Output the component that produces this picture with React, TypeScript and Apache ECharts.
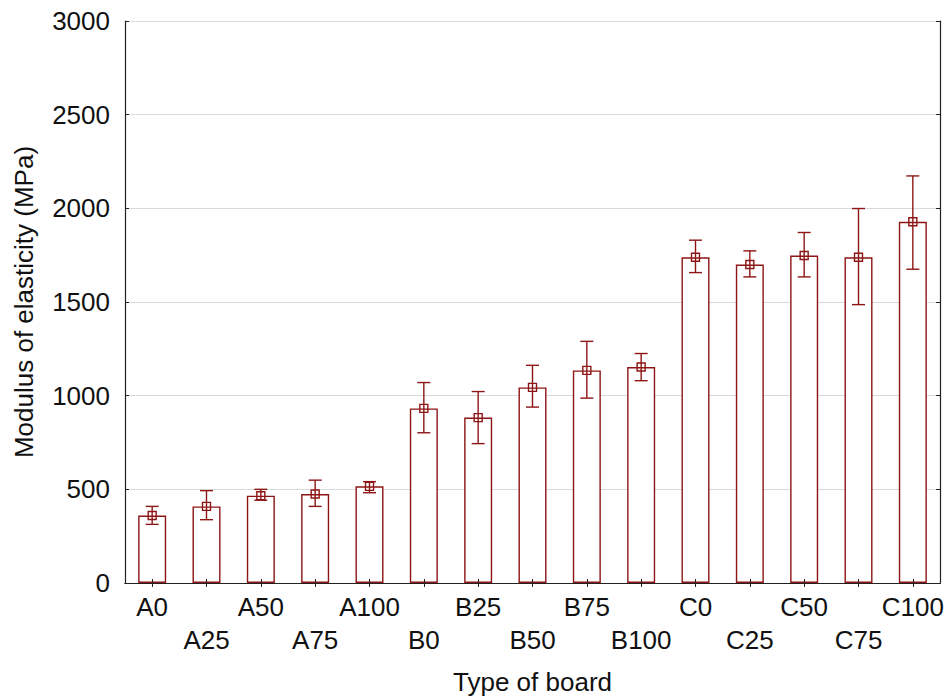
import React, { useEffect, useRef } from "react";
import * as echarts from "echarts";

const categories = ["A0", "A25", "A50", "A75", "A100", "B0", "B25", "B50", "B75", "B100", "C0", "C25", "C50", "C75", "C100"];
const means = [360, 409, 466, 475, 516, 932, 883, 1044, 1135, 1153, 1739, 1700, 1748, 1739, 1928];
const upper = [409, 493, 500, 549, 541, 1070, 1022, 1162, 1290, 1225, 1830, 1773, 1871, 1999, 2173];
const lower = [313, 338, 442, 409, 482, 802, 744, 939, 987, 1080, 1657, 1634, 1634, 1486, 1675];
const yTicks = { min: 0, max: 3000, interval: 500 };

const RED = "#8e1515";
const FONT = "'Liberation Sans', Arial, sans-serif";

export default function App() {
  const ref = useRef<HTMLDivElement>(null);
  useEffect(() => {
    if (!ref.current) return;
    const chart = echarts.init(ref.current, null, { renderer: "svg" });
    const errData = categories.map((_, i) => [i, lower[i], upper[i]]);
    chart.setOption({
      animation: false,
      backgroundColor: "#ffffff",
      textStyle: { fontFamily: FONT },
      grid: { left: 125, right: 8, top: 21, bottom: 117, containLabel: false },
      xAxis: [
        {
          type: "category",
          data: categories,
          position: "bottom",
          z: 10,
          name: "Type of board",
          nameLocation: "middle",
          nameGap: 86,
          nameTextStyle: { fontSize: 26, color: "#111", fontFamily: FONT },
          axisLine: { show: true, lineStyle: { color: "#222", width: 1.2 } },
          axisTick: { show: true, inside: true, alignWithLabel: true, length: 4, lineStyle: { color: "#222" } },
          axisLabel: {
            interval: 0,
            fontSize: 26,
            color: "#111",
            fontFamily: FONT,
            lineHeight: 33,
            margin: 7,
            formatter: (v: string, i: number) => (i % 2 === 1 ? "\n" + v : v),
          },
          splitLine: { show: false },
        },
        {
          type: "category",
          data: categories,
          position: "top",
          z: 10,
          axisLine: { show: true, lineStyle: { color: "#222", width: 1.2 } },
          axisTick: { show: true, inside: true, alignWithLabel: true, length: 4, lineStyle: { color: "#222" } },
          axisLabel: { show: false },
          splitLine: { show: false },
        },
      ],
      yAxis: [
        {
          type: "value",
          min: yTicks.min,
          max: yTicks.max,
          interval: yTicks.interval,
          position: "left",
          name: "Modulus of elasticity (MPa)",
          nameLocation: "middle",
          nameGap: 88,
          nameTextStyle: { fontSize: 26, color: "#111", fontFamily: FONT },
          axisLine: { show: true, lineStyle: { color: "#222", width: 1.2 } },
          axisTick: { show: true, inside: true, length: 4, lineStyle: { color: "#222" } },
          axisLabel: {
            fontSize: 26,
            color: "#111",
            fontFamily: FONT,
            margin: 15,
            formatter: (v: number) => String(v),
          },
          splitLine: { show: true, lineStyle: { color: "#d9d9d9", width: 1.2 } },
        },
        {
          type: "value",
          min: yTicks.min,
          max: yTicks.max,
          interval: yTicks.interval,
          position: "right",
          z: 10,
          axisLine: { show: true, lineStyle: { color: "#222", width: 1.2 } },
          axisTick: { show: true, inside: true, length: 4, lineStyle: { color: "#222" } },
          axisLabel: { show: false },
          splitLine: { show: false },
        },
      ],
      series: [
        {
          type: "bar",
          data: means,
          barWidth: 28,
          itemStyle: { color: "#ffffff", borderColor: RED, borderWidth: 1.4 },
          z: 2,
        },
        {
          type: "custom",
          data: errData,
          z: 5,
          renderItem: (params: any, api: any) => {
            const idx = api.value(0);
            const lo = api.coord([idx, api.value(1)]);
            const hi = api.coord([idx, api.value(2)]);
            const cap = 6.5;
            const style = { stroke: RED, lineWidth: 1.4 };
            return {
              type: "group",
              children: [
                { type: "line", shape: { x1: hi[0], y1: hi[1], x2: lo[0], y2: lo[1] }, style },
                { type: "line", shape: { x1: hi[0] - cap, y1: hi[1], x2: hi[0] + cap, y2: hi[1] }, style },
                { type: "line", shape: { x1: lo[0] - cap, y1: lo[1], x2: lo[0] + cap, y2: lo[1] }, style },
              ],
            };
          },
        },
        {
          type: "scatter",
          data: means,
          symbol: "rect",
          symbolSize: 8,
          itemStyle: { color: "rgba(255,255,255,0)", borderColor: RED, borderWidth: 1.4, opacity: 1 },
          z: 6,
        },
      ],
    });
    return () => chart.dispose();
  }, []);
  return (
    <div
      ref={ref}
      style={{ position: "fixed", left: 0, top: 0, width: 948, height: 700, background: "#fff" }}
    />
  );
}
